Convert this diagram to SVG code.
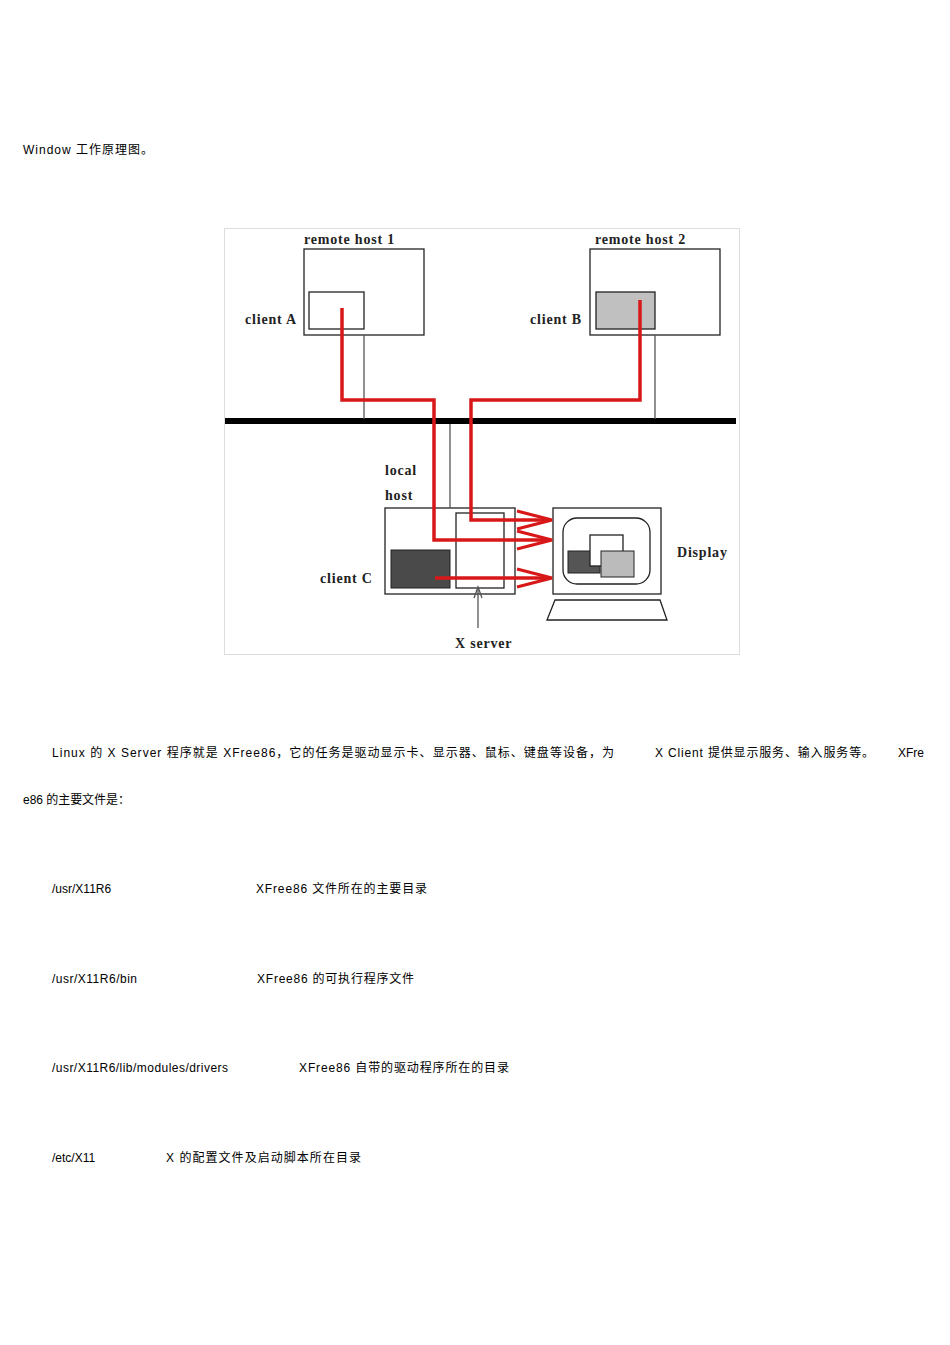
<svg xmlns="http://www.w3.org/2000/svg" width="950" height="1345" viewBox="0 0 950 1345">
<style>
.t{font-family:"Liberation Sans","Noto Sans CJK SC",sans-serif;font-size:12px;fill:#000}
.d{font-family:"Liberation Serif",serif;font-size:14px;font-weight:bold;fill:#222;letter-spacing:0.8px}
.b{fill:#fff;stroke:#222;stroke-width:1.3}
.red{fill:none;stroke:#d81818;stroke-width:3.5}
.arr{fill:none;stroke:#d81818;stroke-width:3}
.g{stroke:#555;stroke-width:1.3}
</style>
<rect width="950" height="1345" fill="#fff"/>
<text class="t" x="23" y="154" textLength="130" lengthAdjust="spacing">Window  工作原理图。</text>
<rect x="224.500" y="228.500" width="515" height="426" fill="#fff" stroke="#ddd"/>
<g id="host1"><rect class="b" x="304" y="249" width="120" height="86"/><text class="d" x="304" y="244">remote host 1</text></g>
<g id="clientA"><rect class="b" x="309" y="292" width="55" height="37"/><text class="d" x="245" y="324">client A</text></g>
<g id="host2"><rect class="b" x="590" y="249" width="130" height="86"/><text class="d" x="595" y="244">remote host 2</text></g>
<g id="clientB"><rect class="b" x="596" y="292" width="59" height="37" style="fill:#c0c0c0"/><text class="d" x="530" y="324">client B</text></g>
<g id="localhost"><rect class="b" x="385" y="508" width="130" height="86"/><text class="d" x="385" y="475">local</text><text class="d" x="385" y="500">host</text></g>
<g id="xserver"><rect class="b" x="456" y="513" width="48" height="75"/><text class="d" x="455" y="648">X server</text></g>
<g id="clientC"><rect x="391" y="550" width="59" height="38" fill="#4a4a4a" stroke="#222"/><text class="d" x="320" y="583">client C</text></g>
<g id="display"><rect class="b" x="553" y="508" width="108" height="86"/><rect class="b" x="563" y="518" width="87" height="66" rx="14"/>
<rect x="568" y="551" width="32" height="22" fill="#555" stroke="#222"/><rect class="b" x="590" y="535" width="33" height="31"/><rect x="601" y="551" width="33" height="26" fill="#bbb" stroke="#222"/>
<path class="b" d="M555 600H660L667 620H547Z"/><text class="d" x="677" y="557">Display</text></g>
<g id="connectors">
<line x1="225" y1="421" x2="736" y2="421" stroke="#000" stroke-width="6"/>
<line class="g" x1="364" y1="335" x2="364" y2="419"/><line class="g" x1="655" y1="335" x2="655" y2="419"/><line class="g" x1="450" y1="424" x2="450" y2="508"/>
<line class="g" x1="478" y1="588" x2="478" y2="628"/><path class="g" fill="none" d="M474 598L478 587L482 598"/>
<path class="red" d="M342 308V400H434V540H548"/>
<path class="red" d="M640 300V400H471V520H548"/>
<path class="red" d="M435 578H548"/>
<path class="arr" d="M517 511L552 520L517 529M517 531L552 540L517 549M517 569L552 578L517 587"/>
</g>
<text class="t" x="52" y="757" textLength="562" lengthAdjust="spacing">Linux  的 X  Server 程序就是  XFree86，它的任务是驱动显示卡、显示器、鼠标、键盘等设备，为</text>
<text class="t" x="655" y="757" textLength="219" lengthAdjust="spacing">X  Client  提供显示服务、输入服务等。</text>
<text class="t" x="898" y="757">XFre</text>
<text class="t" x="23" y="804" textLength="107" lengthAdjust="spacing">e86 的主要文件是：</text>
<text class="t" x="52" y="893">/usr/X11R6</text><text class="t" x="256" y="893" textLength="171" lengthAdjust="spacing">XFree86  文件所在的主要目录</text>
<text class="t" x="52" y="983" textLength="85" lengthAdjust="spacing">/usr/X11R6/bin</text><text class="t" x="257" y="983" textLength="157" lengthAdjust="spacing">XFree86  的可执行程序文件</text>
<text class="t" x="52" y="1072" textLength="176" lengthAdjust="spacing">/usr/X11R6/lib/modules/drivers</text><text class="t" x="299" y="1072" textLength="210" lengthAdjust="spacing">XFree86  自带的驱动程序所在的目录</text>
<text class="t" x="52" y="1162">/etc/X11</text><text class="t" x="166" y="1162" textLength="195" lengthAdjust="spacing">X  的配置文件及启动脚本所在目录</text>
</svg>
